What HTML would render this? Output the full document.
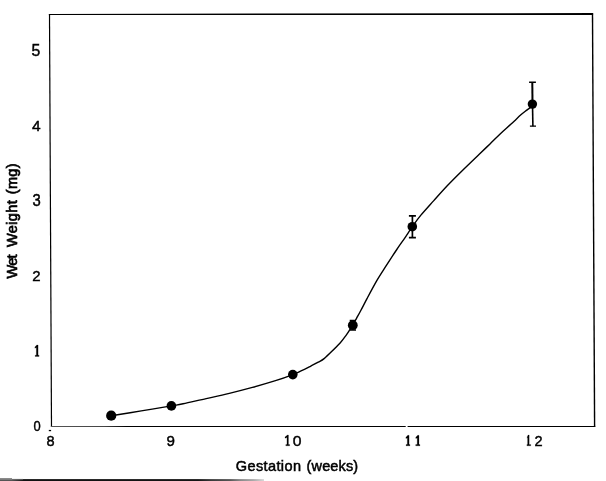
<!DOCTYPE html>
<html>
<head>
<meta charset="utf-8">
<style>
html,body{margin:0;padding:0;background:#fff;}
body{width:606px;height:481px;overflow:hidden;font-family:"Liberation Sans",sans-serif;}
svg{display:block;will-change:transform;}
text{font-family:"Liberation Sans",sans-serif;fill:#000;}
.tick{stroke:#000;stroke-width:0.28px;}
.ttl{font-size:14.5px;stroke:#000;stroke-width:0.5px;}
</style>
</head>
<body>
<svg width="606" height="481" viewBox="0 0 606 481">
  <rect x="0" y="0" width="606" height="481" fill="#fff"/>
  <!-- frame (slightly skewed like the scan) -->
  <g stroke="#000" fill="none">
    <path d="M49.5 14 L51.5 427" stroke-width="1.2"/>
    <path d="M592.5 13.2 L594.6 427" stroke-width="1.4"/>
    <path d="M50.9 426.45 H595.2" stroke="url(#gb)" stroke-width="1.15"/>
  </g>
  <path d="M48.9 14 L593.1 13 L593.1 15 L48.9 15 Z" fill="#000"/>
  <!-- white tick at 11 -->
  <rect x="405.7" y="424" width="1.9" height="4" fill="#fff"/>
  <!-- small tick under 8 -->
  <rect x="48.8" y="429.9" width="2.3" height="1.3" fill="#000"/>

  <!-- curve -->
  <path d="M111.2 415.8 C116.2 415.0 131.3 412.6 141.3 410.9 C151.3 409.3 164.4 407.1 171.4 405.9 C178.4 404.7 177.3 405.0 183.1 403.8 C188.9 402.6 198.5 400.3 206.2 398.6 C213.9 396.9 221.6 395.3 229.3 393.4 C237.0 391.5 244.7 389.5 252.4 387.4 C260.1 385.3 268.8 382.8 275.5 380.7 C282.2 378.6 288.4 376.3 292.8 374.6 C297.2 372.9 298.7 372.0 301.6 370.7 C304.5 369.4 307.2 368.0 310.0 366.6 C312.8 365.2 315.9 363.4 318.3 362.1 C320.7 360.8 321.9 360.4 324.1 358.6 C326.3 356.9 329.0 354.2 331.6 351.6 C334.2 349.1 337.5 345.9 339.9 343.3 C342.2 340.7 344.0 338.1 345.7 335.8 C347.4 333.5 348.7 331.4 349.9 329.6 C351.1 327.8 351.7 327.0 352.8 325.1 C353.9 323.2 355.2 320.7 356.5 318.3 C357.8 315.9 359.1 313.8 360.8 310.5 C362.6 307.2 364.4 303.5 367.0 298.6 C369.6 293.7 373.4 286.5 376.5 281.1 C379.6 275.7 382.5 271.5 385.9 266.2 C389.3 260.9 393.6 254.2 396.8 249.5 C400.0 244.8 402.3 241.6 404.9 237.8 C407.5 234.0 409.6 230.5 412.3 226.7 C415.0 222.9 417.5 219.2 421.1 214.9 C424.7 210.6 429.5 205.4 433.8 200.6 C438.1 195.8 442.1 191.2 447.0 186.0 C451.9 180.8 457.8 175.0 463.2 169.7 C468.6 164.4 475.0 158.3 479.5 154.0 C484.0 149.7 486.5 147.3 490.0 143.9 C493.5 140.5 496.9 137.0 500.4 133.7 C503.9 130.4 508.2 126.7 510.8 124.3 C513.4 121.9 514.3 121.0 516.0 119.4 C517.7 117.8 519.5 116.1 521.2 114.6 C522.9 113.1 525.0 111.5 526.4 110.4 C527.8 109.3 528.5 108.9 529.5 108.1 C530.5 107.3 531.8 106.2 532.3 105.8" fill="none" stroke="#000" stroke-width="1.4" stroke-linecap="round"/>

  <!-- error bars -->
  <g stroke="#000" fill="none">
    <path d="M412.4 215.7 V237.8" stroke-width="1.7"/>
    <path d="M408.9 215.8 H415.9 M408.9 237.7 H415.9" stroke-width="1.7"/>
    <path d="M532.3 82.2 L532.5 104" stroke-width="2"/>
    <path d="M532.5 104 L532.9 126.2" stroke-width="1.6"/>
    <path d="M529.1 82.3 H535.9 M529.9 126.1 H536" stroke-width="1.4"/>
    <path d="M349.7 320.4 H356 M349.7 330 H356" stroke-width="1.4"/>
  </g>

  <!-- points -->
  <g fill="#000">
    <circle cx="111.2" cy="415.7" r="5.1"/>
    <circle cx="171.4" cy="405.9" r="4.85"/>
    <circle cx="292.8" cy="374.6" r="4.8"/>
    <circle cx="352.8" cy="325.2" r="4.9"/>
    <circle cx="412.3" cy="226.7" r="4.8"/>
    <circle cx="532.4" cy="104.1" r="4.7"/>
  </g>

  <!-- tick labels -->
  <g class="tick">
    <text transform="translate(31.42 55.94) scale(1.579 1.619)" font-size="10">5</text>
    <text transform="translate(31.91 130.95) scale(1.554 1.497)" font-size="10">4</text>
    <text transform="translate(32.49 206.24) scale(1.484 1.617)" font-size="10">3</text>
    <text transform="translate(32.30 280.75) scale(1.502 1.454)" font-size="10">2</text>
    <text transform="translate(33.50 430.60) scale(1.294 1.547)" font-size="10">0</text>
    <text transform="translate(46.42 445.60) scale(1.457 1.547)" font-size="10">8</text>
    <text transform="translate(166.50 445.60) scale(1.512 1.547)" font-size="10">9</text>
    <text transform="translate(292.74 445.60) scale(1.576 1.547)" font-size="10">0</text>
    <text transform="translate(534.62 445.60) scale(1.458 1.547)" font-size="10">2</text>
  </g>
  <g fill="#000" stroke="#000" stroke-width="0.2" stroke-linejoin="round">
    <path d="M38.08 345.00 L38.08 355.20 L39.10 355.20 L39.10 356.40 L35.10 356.40 L35.10 355.20 L36.33 355.20 L36.33 347.60 L34.90 348.20 L34.90 346.90 L36.83 345.00 Z"/>
    <path d="M288.45 435.00 L288.45 444.60 L289.70 444.60 L289.70 445.80 L285.80 445.80 L285.80 444.60 L286.95 444.60 L286.95 437.60 L285.00 438.20 L285.00 436.90 L287.45 435.00 Z"/>
    <path d="M409.07 435.30 L409.07 444.60 L410.00 444.60 L410.00 445.80 L406.00 445.80 L406.00 444.60 L407.32 444.60 L407.32 437.90 L405.90 438.50 L405.90 437.20 L407.82 435.30 Z"/>
    <path d="M418.98 435.30 L418.98 444.60 L420.00 444.60 L420.00 445.80 L415.70 445.80 L415.70 444.60 L417.23 444.60 L417.23 437.90 L415.80 438.50 L415.80 437.20 L417.73 435.30 Z"/>
    <path d="M529.17 435.00 L529.17 444.60 L530.80 444.60 L530.80 445.80 L526.90 445.80 L526.90 444.60 L527.62 444.60 L527.62 437.60 L527.20 438.20 L527.20 436.90 L528.12 435.00 Z"/>
  </g>

  <!-- axis titles -->
  <text class="ttl" x="235.8" y="470.8" textLength="65.2" lengthAdjust="spacing">Gestation</text>
  <text class="ttl" x="306.6" y="470.8" textLength="51.5" lengthAdjust="spacing">(weeks)</text>
  <g class="ttl" style="stroke-width:0.7px" transform="translate(16.9 0) rotate(-90) scale(1 0.95)">
    <text x="-278.6" y="0" textLength="24.2" lengthAdjust="spacing">Wet</text>
    <text x="-247.1" y="0" textLength="46.8" lengthAdjust="spacing">Weight</text>
    <text x="-194.3" y="0" textLength="30.8" lengthAdjust="spacing">(mg)</text>
  </g>

  <!-- scan artefact strip at bottom -->
  <defs>
    <linearGradient id="gb" gradientUnits="userSpaceOnUse" x1="50" x2="596" y1="0" y2="0">
      <stop offset="0" stop-color="#555"/>
      <stop offset="0.1" stop-color="#444"/>
      <stop offset="0.14" stop-color="#000"/>
      <stop offset="1" stop-color="#000"/>
    </linearGradient>
    <linearGradient id="g1" gradientUnits="userSpaceOnUse" x1="0" x2="264" y1="0" y2="0">
      <stop offset="0" stop-color="#555"/>
      <stop offset="0.045" stop-color="#555"/>
      <stop offset="0.09" stop-color="#111"/>
      <stop offset="0.75" stop-color="#151515"/>
      <stop offset="0.80" stop-color="#3a3a3a"/>
      <stop offset="0.87" stop-color="#555"/>
      <stop offset="0.91" stop-color="#888"/>
      <stop offset="0.96" stop-color="#aaa"/>
      <stop offset="1" stop-color="#d8d8d8"/>
    </linearGradient>
  </defs>
  <rect x="0" y="479.1" width="264" height="1.9" fill="url(#g1)"/>
  <rect x="0" y="478" width="12" height="1.6" fill="#8a8a8a"/>
  <rect x="12" y="478.9" width="11" height="0.6" fill="#777"/>
</svg>
</body>
</html>
